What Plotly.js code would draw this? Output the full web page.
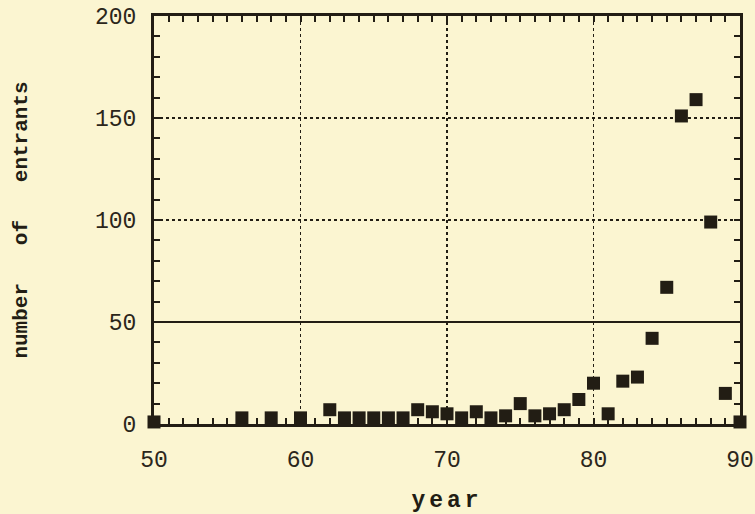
<!DOCTYPE html>
<html>
<head>
<meta charset="utf-8">
<script src="https://cdn.plot.ly/plotly-3.0.1.min.js"></script>
<style>
html,body{margin:0;padding:0;background:#fbf5d1;}
.xtitle{letter-spacing:4px;}
</style>
</head>
<body>
<div id="chart" style="width:755px;height:514px;"></div>
<script>
const years = [50,56,58,60,62,63,64,65,66,67,68,69,70,71,72,73,74,75,76,77,78,79,80,81,82,83,84,85,86,87,88,89,90];
const entrants = [1,3,3,3,7,3,3,3,3,3,7,6,5,3,6,3,4,10,4,5,7,12,20,5,21,23,42,67,151,159,99,15,1];
const xTickVals = [50,60,70,80,90];
const yTickVals = [0,50,100,150,200];

const ink = '#221d14';
const bg = '#fbf5d1';

const trace = {
  x: years, y: entrants, type: 'scatter', mode: 'markers',
  marker: {symbol: 'square', size: 13, color: ink},
  cliponaxis: false, hoverinfo: 'skip'
};

const tickFont = {family: '"Liberation Mono", monospace', size: 23, color: '#2b261b'};
const titleFont = {family: '"Liberation Mono", monospace', size: 21, color: ink, weight: 'bold'};

const layout = {
  width: 755, height: 514,
  paper_bgcolor: bg, plot_bgcolor: bg,
  margin: {l: 154, r: 15, t: 16, b: 90},
  showlegend: false,
  xaxis: {
    range: [50, 90], tickvals: xTickVals, ticktext: xTickVals.map(String),
    tickfont: tickFont, ticklabelstandoff: 12,
    ticks: 'inside', ticklen: 6, tickwidth: 2, tickcolor: ink,
    showline: true, linewidth: 3, linecolor: ink, mirror: 'allticks',
    showgrid: true, gridcolor: ink, gridwidth: 1.5, griddash: 'dot',
    zeroline: false,
    minor: {dtick: 1, ticks: 'inside', ticklen: 6, tickwidth: 2, tickcolor: ink, showgrid: false},
    title: {text: 'year', font: {family: '"Liberation Mono", monospace', size: 23, color: ink, weight: 'bold'}, standoff: 32}
  },
  yaxis: {
    range: [0, 200], tickvals: yTickVals, ticktext: yTickVals.map(String),
    tickfont: tickFont, ticklabelstandoff: 10,
    ticks: 'inside', ticklen: 6, tickwidth: 2, tickcolor: ink,
    showline: true, linewidth: 3, linecolor: ink, mirror: 'allticks',
    showgrid: true, gridcolor: ink, gridwidth: 1.5, griddash: 'dot',
    zeroline: false,
    minor: {dtick: 10, ticks: 'inside', ticklen: 6, tickwidth: 2, tickcolor: ink, showgrid: false},
    title: {text: 'number\u00a0\u00a0\u00a0of\u00a0\u00a0\u00a0entrants', font: titleFont, standoff: 62}
  },
  shapes: [{type: 'line', xref: 'paper', x0: 0, x1: 1, yref: 'y', y0: 50, y1: 50, line: {color: ink, width: 2}}]
};

Plotly.newPlot('chart', [trace], layout, {displayModeBar: false, staticPlot: true});
</script>
</body>
</html>
